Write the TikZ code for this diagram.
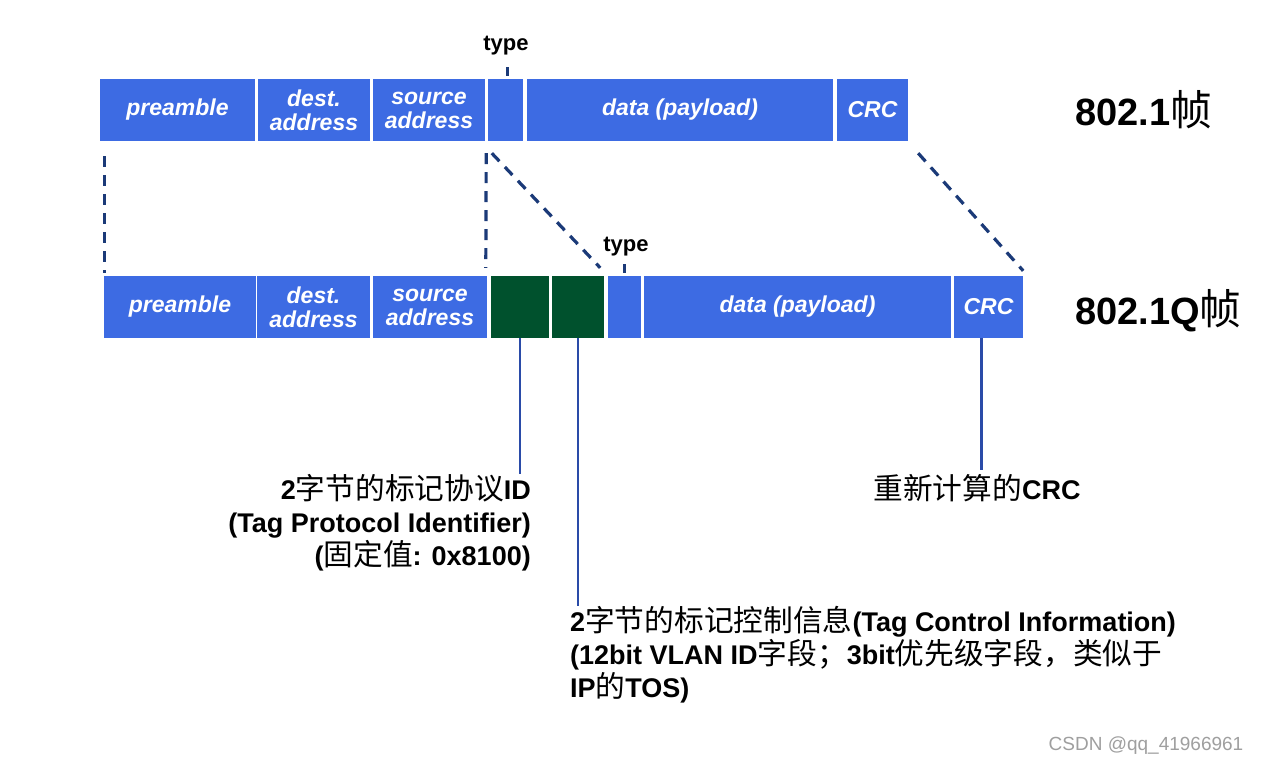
\documentclass[tikz,border=0pt]{standalone}
\usepackage{fontspec}
\setmainfont{Liberation Sans}
\newfontfamily\cjk[Scale=1.1]{Noto Sans CJK SC}
\newcommand{\zh}[1]{{\cjk\mdseries #1}}
\definecolor{fblue}{HTML}{3D6BE3}
\definecolor{fgreen}{HTML}{00512D}
\definecolor{dnavy}{HTML}{1B3A78}
\definecolor{lblue}{HTML}{2A4BA8}
\begin{document}
\begin{tikzpicture}[x=1pt,y=-1pt,
  fld/.style={fill=fblue, text=white, inner sep=0pt, minimum height=62pt,
    font=\fontsize{23}{24}\selectfont\bfseries\itshape, align=center},
  tagfld/.style={fill=fgreen, inner sep=0pt, minimum height=62pt},
  dashline/.style={draw=dnavy, line width=3.2pt, dash pattern=on 11pt off 8pt},
  vline/.style={draw=lblue, line width=2.2pt},
  tick/.style={draw=dnavy, line width=2.6pt},
  typelbl/.style={font=\fontsize{22}{22}\selectfont\bfseries, inner sep=0pt},
  lbl/.style={font=\fontsize{27}{33}\selectfont\bfseries, inner sep=0pt},
  framelbl/.style={font=\fontsize{38}{38}\selectfont\bfseries, inner sep=0pt, anchor=west}]
\useasboundingbox (0,0) rectangle (1261,766);
\fill[white] (0,0) rectangle (1261,766);

% 802.1 frame
\node[fld, minimum width=155pt] (pre1)  at (177.5,110) {preamble};
\node[fld, minimum width=112pt] (dest1) at (314,110)   {dest.\\address};
\node[fld, minimum width=112pt] (src1)  at (429,110)   {source\\address};
\node[fld, minimum width=35pt]  (type1) at (505.5,110) {};
\node[fld, minimum width=306pt] (data1) at (680,110)   {data (payload)};
\node[fld, minimum width=71pt]  (crc1)  at (872.5,110) {CRC};
\node[typelbl] (tl1) at (506,46) {type};
\draw[tick] ([xshift=2pt,yshift=3pt]type1.north) -- ([xshift=2pt,yshift=12pt]type1.north);
\node[framelbl] (f1) at (1075,110) {802.1\zh{帧}};

% 802.1Q frame
\node[fld, minimum width=152pt] (pre2)  at (180,307)   {preamble};
\node[fld, minimum width=113pt] (dest2) at (313.5,307) {dest.\\address};
\node[fld, minimum width=114pt] (src2)  at (430,307)   {source\\address};
\node[tagfld, minimum width=58pt] (g1)  at (520,307)   {};
\node[tagfld, minimum width=52pt] (g2)  at (578,307)   {};
\node[fld, minimum width=33pt]  (type2) at (624.5,307) {};
\node[fld, minimum width=307pt] (data2) at (797.5,307) {data (payload)};
\node[fld, minimum width=69pt]  (crc2)  at (988.5,307) {CRC};
\node[typelbl] (tl2) at (626,247) {type};
\draw[tick] ([yshift=3pt]type2.north) -- ([yshift=12pt]type2.north);
\node[framelbl] (f2) at (1075,311) {802.1Q\zh{帧}};

% dashed correspondence lines
\draw[dashline] ([xshift=5pt,yshift=-15pt]pre1.south west) -- ([xshift=1pt,yshift=3pt]pre2.north west);
\draw[dashline] ([xshift=1pt,yshift=-12pt]src1.south east) -- ([xshift=-5pt,yshift=8pt]g1.north west);
\draw[dashline] ([xshift=4pt,yshift=-12pt]type1.south west) -- ([xshift=-4pt,yshift=8pt]g2.north east);
\draw[dashline] ([xshift=10pt,yshift=-12pt]crc1.south east) -- ([yshift=5pt]crc2.north east);

% labels
\node[lbl, align=right, anchor=north east] (tpid) at (531,474)
  {2\zh{字节的标记协议}ID\\(Tag Protocol Identifier)\\(\zh{固定值}: 0x8100)};
\node[lbl, align=left, anchor=north west] (tci) at (570,606)
  {2\zh{字节的标记控制信息}(Tag Control Information)\\(12bit VLAN ID\zh{字段；}3bit\zh{优先级字段，类似于}\\IP\zh{的}TOS)};
\node[lbl, anchor=north] (recrc) at (977,474) {\zh{重新计算的}CRC};

\draw[vline] (g1.south) -- (g1.south |- tpid.north);
\draw[vline] (g2.south) -- (g2.south |- tci.north);
\draw[vline] ([xshift=-7pt]crc2.south) -- ([xshift=-7pt,yshift=4pt]crc2.south |- recrc.north);

\node[font=\fontsize{19}{19}\selectfont, text=gray!75, inner sep=0pt] (wm) at (1146,746) {CSDN @qq\_41966961};
\end{tikzpicture}
\end{document}
